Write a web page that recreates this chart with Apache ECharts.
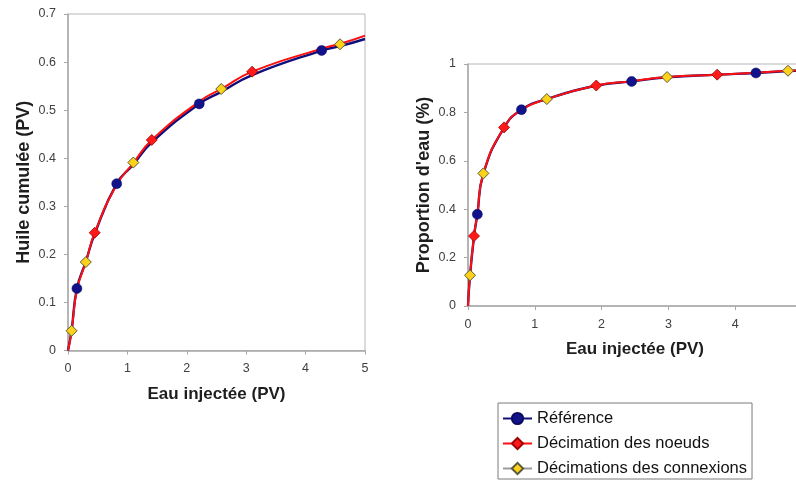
<!DOCTYPE html>
<html>
<head>
<meta charset="utf-8">
<script src="https://cdn.jsdelivr.net/npm/echarts@6/dist/echarts.min.js"></script>
<style>
html,body{margin:0;padding:0;background:#fff;overflow:hidden;width:796px;height:480px;}
#c{width:812px;height:520px;}
</style>
</head>
<body>
<div id="c"></div>
<script>
// ---- Data ----
const seriesNames = ['Référence', 'Décimation des noeuds', 'Décimations des connexions'];

// Left chart: Huile cumulée (PV) vs Eau injectée (PV)
const leftRefLine = [[0,0],[0.06,0.042],[0.15,0.129],[0.3,0.185],[0.45,0.243],[0.82,0.347],[1.1,0.387],[1.41,0.433],[2.21,0.513],[2.58,0.538],[3.1,0.573],[4.27,0.624],[4.58,0.633],[5,0.648]];
const leftNodLine = [[0,0],[0.06,0.040],[0.15,0.126],[0.3,0.184],[0.45,0.245],[0.82,0.345],[1.1,0.390],[1.41,0.438],[2.21,0.518],[2.58,0.544],[3.1,0.580],[4.27,0.628],[4.58,0.638],[5,0.655]];
const leftConLine = [[0,0],[0.06,0.041],[0.15,0.126],[0.3,0.184],[0.45,0.245],[0.82,0.345],[1.1,0.391],[1.41,0.438],[2.21,0.518],[2.58,0.544],[3.1,0.579],[4.27,0.628],[4.58,0.637],[5,0.654]];
const leftRefMarks = [[0.15,0.129],[0.82,0.347],[2.21,0.513],[4.27,0.624]];
const leftNodMarks = [[0.45,0.245],[1.41,0.438],[3.1,0.580]];
const leftConMarks = [[0.06,0.041],[0.3,0.184],[1.1,0.391],[2.58,0.544],[4.58,0.637]];

// Right chart: Proportion d'eau (%) vs Eau injectée (PV)
const rightRefLine = [[0,0],[0.03,0.125],[0.09,0.287],[0.14,0.379],[0.23,0.546],[0.54,0.737],[0.80,0.811],[1.18,0.855],[1.92,0.910],[2.45,0.928],[2.98,0.945],[3.73,0.956],[4.31,0.963],[4.79,0.971],[5,0.973]];
const rightNodLine = [[0,0],[0.03,0.127],[0.09,0.289],[0.14,0.380],[0.23,0.548],[0.54,0.738],[0.80,0.811],[1.18,0.855],[1.92,0.911],[2.45,0.929],[2.98,0.946],[3.73,0.956],[4.31,0.964],[4.79,0.972],[5,0.974]];
const rightConLine = [[0,0],[0.03,0.127],[0.09,0.289],[0.14,0.380],[0.23,0.548],[0.54,0.738],[0.80,0.811],[1.18,0.855],[1.92,0.911],[2.45,0.929],[2.98,0.946],[3.73,0.956],[4.31,0.964],[4.79,0.972],[5,0.974]];
const rightRefMarks = [[0.14,0.379],[0.80,0.811],[2.45,0.928],[4.31,0.963]];
const rightNodMarks = [[0.09,0.289],[0.54,0.738],[1.92,0.911],[3.73,0.956]];
const rightConMarks = [[0.03,0.127],[0.23,0.548],[1.18,0.855],[2.98,0.946],[4.79,0.972]];

const leftXTicks = [0,1,2,3,4,5];
const leftYTicks = [0,0.1,0.2,0.3,0.4,0.5,0.6,0.7];
const rightXTicks = [0,1,2,3,4,5];
const rightYTicks = [0,0.2,0.4,0.6,0.8,1];

// ---- Styles ----
const FONT = 'Liberation Sans, Arial, sans-serif';
const styles = [
  {line:'#10107a', lw:2.4, sym:'circle', size:10, fill:'#12128a', border:'#0a0a60', bw:0.5},
  {line:'#ff1010', lw:2, sym:'diamond', size:11, fill:'#ff1a1a', border:'#a00000', bw:0.8},
  {line:'#9a9a9a', lw:1, sym:'diamond', size:11, fill:'#ffd21a', border:'#5a5a3a', bw:1}
];

function xAxisCfg(gridIndex, ticks){
  return {
    type:'value', gridIndex, min:ticks[0], max:ticks[ticks.length-1], interval:ticks[1]-ticks[0],
    name:'Eau injectée (PV)', nameLocation:'middle', nameGap:35,
    nameTextStyle:{fontFamily:FONT, fontSize:17, fontWeight:'bold', color:'#1e1e1e'},
    axisLine:{show:true, onZero:false, lineStyle:{color:'#a8a8a8', width:1.5}},
    axisTick:{show:true, length:4, lineStyle:{color:'#a8a8a8'}},
    axisLabel:{fontFamily:FONT, fontSize:12.5, color:'#404040', margin:12},
    splitLine:{show:false}
  };
}
function yAxisCfg(gridIndex, ticks, name){
  return {
    type:'value', gridIndex, min:ticks[0], max:ticks[ticks.length-1], interval:+(ticks[1]-ticks[0]).toFixed(2),
    name, nameLocation:'middle', nameGap:35,
    nameTextStyle:{fontFamily:FONT, fontSize:18, fontWeight:'bold', color:'#1e1e1e'},
    axisLine:{show:true, onZero:false, lineStyle:{color:'#a8a8a8', width:1.5}},
    axisTick:{show:true, length:4, lineStyle:{color:'#a8a8a8'}},
    axisLabel:{fontFamily:FONT, fontSize:12.5, color:'#404040', margin:12,
      formatter:v=>String(+v.toFixed(2))},
    splitLine:{show:false}
  };
}

const lineSets = [
  [leftRefLine, leftNodLine, leftConLine],
  [rightRefLine, rightNodLine, rightConLine]
];
const markSets = [
  [leftRefMarks, leftNodMarks, leftConMarks],
  [rightRefMarks, rightNodMarks, rightConMarks]
];
const lineZ = [3, 4, 2];

const series = [];
// line series first (legend icons come from them)
for (let g = 0; g < 2; g++) {
  for (let s = 0; s < 3; s++) {
    const st = styles[s];
    series.push({
      type:'line', name:seriesNames[s], xAxisIndex:g, yAxisIndex:g,
      data:lineSets[g][s], smooth:0.5,
      showSymbol:false, symbol:st.sym, symbolSize:st.size,
      itemStyle:{color:st.fill, borderColor:st.border, borderWidth:st.bw},
      lineStyle:{color:st.line, width:st.lw},
      z:lineZ[s], silent:true, animation:false, clip:true
    });
  }
}
for (let g = 0; g < 2; g++) {
  for (let s = 0; s < 3; s++) {
    const st = styles[s];
    series.push({
      type:'scatter', name:seriesNames[s], xAxisIndex:g, yAxisIndex:g,
      data:markSets[g][s], symbol:st.sym, symbolSize:st.size,
      itemStyle:{color:st.fill, borderColor:st.border, borderWidth:st.bw, opacity:1},
      z:10+s, silent:true, animation:false
    });
  }
}

const chart = echarts.init(document.getElementById('c'), null, {renderer:'canvas'});
chart.setOption({
  backgroundColor:'#ffffff',
  animation:false,
  grid:[
    {left:68, top:14, width:297, height:336.5, show:true, borderColor:'#b8b8b8', borderWidth:1, backgroundColor:'transparent'},
    {left:468, top:64, width:334, height:242, show:true, borderColor:'#b8b8b8', borderWidth:1, backgroundColor:'transparent'}
  ],
  xAxis:[xAxisCfg(0, leftXTicks), xAxisCfg(1, rightXTicks)],
  yAxis:[yAxisCfg(0, leftYTicks, 'Huile cumulée (PV)'), yAxisCfg(1, rightYTicks, "Proportion d'eau (%)")],
  legend:{
    data:seriesNames, orient:'vertical', left:498, top:403,
    padding:[7,5,2,4], itemGap:8, itemWidth:29, itemHeight:14,
    borderColor:'#7a7a7a', borderWidth:1, backgroundColor:'#ffffff',
    textStyle:{fontFamily:FONT, fontSize:16.5, lineHeight:17, color:'#111'},
    selectedMode:false
  },
  series
});
</script>
</body>
</html>
